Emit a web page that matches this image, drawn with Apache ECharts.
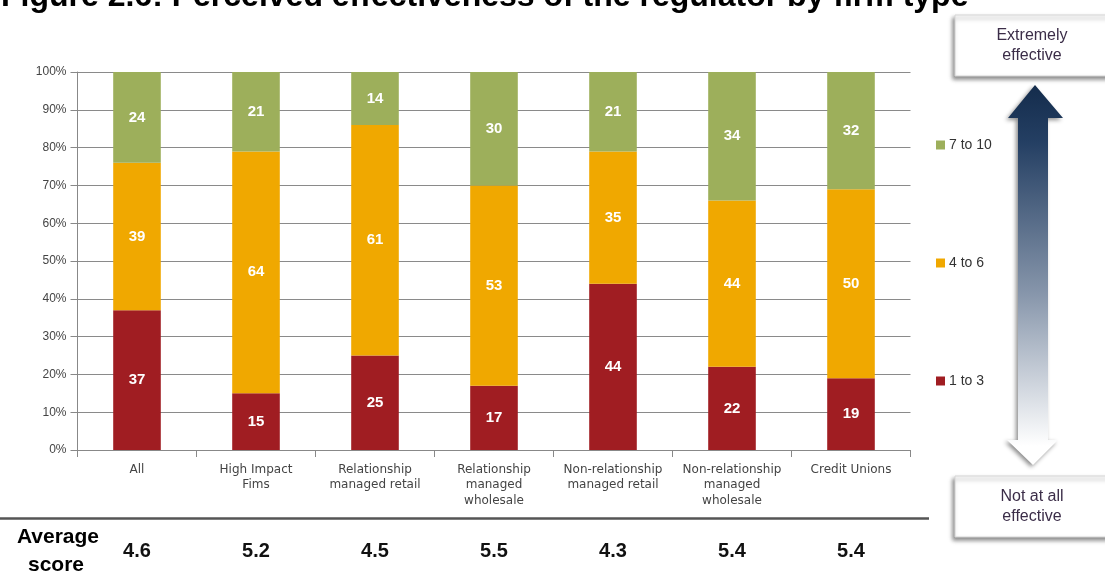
<!DOCTYPE html>
<html>
<head>
<meta charset="utf-8">
<script src="https://cdn.jsdelivr.net/npm/echarts@6/dist/echarts.min.js"></script>
<style>
html,body{margin:0;padding:0;background:#fff;}
#main{width:1105px;height:583px;}
</style>
</head>
<body>
<div id="main"></div>
<script>
var categories = ['All', 'High Impact\nFims', 'Relationship\nmanaged retail', 'Relationship\nmanaged\nwholesale', 'Non-relationship\nmanaged retail', 'Non-relationship\nmanaged\nwholesale', 'Credit Unions'];
var low = [37, 15, 25, 17, 44, 22, 19];
var mid = [39, 64, 61, 53, 35, 44, 50];
var high = [24, 21, 14, 30, 21, 34, 32];
var averageScores = ['4.6', '5.2', '4.5', '5.5', '4.3', '5.4', '5.4'];
var seriesNames = ['1 to 3', '4 to 6', '7 to 10'];
var colors = ['#A01D22', '#F0A800', '#9DAF5B'];

var FONT = '"Liberation Sans", Arial, sans-serif';
var chart = echarts.init(document.getElementById('main'), null, {renderer: 'canvas'});

var gridLeft = 77.5, gridRight = 910.5, gridTop = 72, gridBottom = 450;

function barSeries(name, data, color) {
  return {
    name: name, type: 'bar', stack: 'total', data: data, barWidth: '40%',
    itemStyle: {color: color},
    label: {show: true, position: 'inside', color: '#fff', fontWeight: 'bold', fontSize: 15, fontFamily: FONT},
    emphasis: {disabled: true}
  };
}

var option = {
  animation: false,
  textStyle: {fontFamily: FONT},
  grid: {left: gridLeft, right: 1105 - gridRight, top: gridTop, bottom: 583 - gridBottom, containLabel: false},
  legend: {
    orient: 'vertical', left: 931, top: 133, itemWidth: 9, itemHeight: 9, itemGap: 104,
    icon: 'rect',
    data: ['7 to 10', '4 to 6', '1 to 3'],
    textStyle: {fontSize: 14, color: '#333', fontFamily: FONT, padding: [0, 0, 0, -1]},
    selectedMode: false
  },
  xAxis: {
    type: 'category', data: categories,
    axisLine: {lineStyle: {color: '#888'}},
    axisTick: {show: true, length: 7, alignWithLabel: false, lineStyle: {color: '#888'}},
    axisLabel: {fontSize: 12, color: '#444', lineHeight: 15.5, margin: 12, interval: 0, fontFamily: '"DejaVu Sans", sans-serif'}
  },
  yAxis: {
    type: 'value', min: 0, max: 100, interval: 10,
    axisLine: {show: true, lineStyle: {color: '#888'}},
    axisTick: {show: true, length: 7, lineStyle: {color: '#888'}},
    axisLabel: {formatter: '{value}%', fontSize: 12, color: '#444', margin: 11, fontFamily: FONT},
    splitLine: {lineStyle: {color: '#8a8a8a'}}
  },
  series: [
    barSeries(seriesNames[0], low, colors[0]),
    barSeries(seriesNames[1], mid, colors[1]),
    barSeries(seriesNames[2], high, colors[2])
  ]
};
chart.setOption(option);

function buildGraphics() {
  var g = [];
  // title (cut off at top)
  g.push({type: 'text', left: 1, top: -19, style: {text: 'Figure 2.6: Perceived effectiveness of the regulator by firm type', font: 'bold 32px ' + FONT, fill: '#000'}});
  // separator line
  g.push({type: 'line', shape: {x1: 0, y1: 518.5, x2: 929, y2: 518.5}, style: {stroke: '#555', lineWidth: 2.5}});
  // Average score label
  g.push({type: 'text', x: 58, y: 537, style: {text: 'Average', font: 'bold 21px ' + FONT, fill: '#000', align: 'center', verticalAlign: 'middle'}});
  g.push({type: 'text', x: 56, y: 565, style: {text: 'score', font: 'bold 21px ' + FONT, fill: '#000', align: 'center', verticalAlign: 'middle'}});
  for (var i = 0; i < categories.length; i++) {
    var px = chart.convertToPixel({xAxisIndex: 0}, i);
    g.push({type: 'text', x: px, y: 551, style: {text: averageScores[i], font: 'bold 20px ' + FONT, fill: '#111', align: 'center', verticalAlign: 'middle'}});
  }
  // arrow
  g.push({
    type: 'polygon',
    shape: {points: [[1035, 85], [1063, 118], [1048, 118], [1048, 440], [1058, 440], [1033, 465], [1007, 440], [1018, 440], [1018, 118], [1008, 118]]},
    style: {
      fill: new echarts.graphic.LinearGradient(0, 0, 0, 1, [
        {offset: 0, color: '#142c4c'},
        {offset: 0.15, color: '#243f63'},
        {offset: 0.55, color: '#8796ab'},
        {offset: 0.95, color: '#ffffff'},
        {offset: 1, color: '#ffffff'}
      ]),
      shadowBlur: 4, shadowColor: 'rgba(0,0,0,0.45)', shadowOffsetX: -2, shadowOffsetY: 2
    }
  });
  // boxes
  function box(y, lines) {
    g.push({type: 'rect', shape: {x: 955, y: y, width: 160, height: 61},
      style: {fill: '#fff', stroke: '#d4d4d4', lineWidth: 1, shadowBlur: 4, shadowColor: 'rgba(0,0,0,0.45)', shadowOffsetX: -2, shadowOffsetY: 3}});
    var cy = y + 31;
    g.push({type: 'text', x: 1032, y: cy - 10, style: {text: lines[0], font: '16px ' + FONT, fill: '#3b2d48', align: 'center', verticalAlign: 'middle'}});
    g.push({type: 'text', x: 1032, y: cy + 10, style: {text: lines[1], font: '16px ' + FONT, fill: '#3b2d48', align: 'center', verticalAlign: 'middle'}});
  }
  box(15, ['Extremely', 'effective']);
  box(476, ['Not at all', 'effective']);
  return g;
}
chart.setOption({graphic: buildGraphics()});
</script>
</body>
</html>
